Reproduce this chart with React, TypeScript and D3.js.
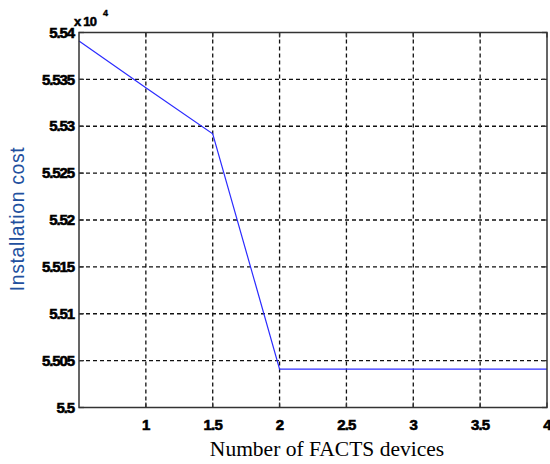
import React from "react";
import * as d3 from "d3";

const xValues = [0.5, 1, 1.5, 2, 2.5, 3, 3.5, 4];
const costValues = [55391, 55341, 55292, 55041, 55041, 55041, 55041, 55041];
const xTicks = [1, 1.5, 2, 2.5, 3, 3.5, 4];
const yTicks = [5.5, 5.505, 5.51, 5.515, 5.52, 5.525, 5.53, 5.535, 5.54];
const yTickLabels = ["5.5", "5.505", "5.51", "5.515", "5.52", "5.525", "5.53", "5.535", "5.54"];

const W = 550;
const H = 464;
const left = 79;
const right = 547;
const top = 32.5;
const bottom = 407.5;

export default function App() {
  const x = d3.scaleLinear().domain([0.5, 4]).range([left, right]);
  const y = d3.scaleLinear().domain([5.5, 5.54]).range([bottom, top]);
  const line = d3
    .line<number>()
    .x((_, i) => x(xValues[i]))
    .y((d) => y(d / 1e4));
  const tickFont = "'Liberation Sans', Arial, sans-serif";
  const boldStyle = { fontWeight: 700 as const };
  return (
    <svg
      width={W}
      height={H}
      style={{ position: "absolute", left: 0, top: 0, background: "#fff" }}
    >
      <rect x={0} y={0} width={W} height={H} fill="#fff" />
      {/* grid */}
      {xTicks.slice(0, -1).map((t) => (
        <line
          key={"gx" + t}
          x1={x(t)}
          x2={x(t)}
          y1={top}
          y2={bottom}
          stroke="#111"
          strokeWidth={1.3}
          strokeDasharray="4,3"
        />
      ))}
      {yTicks.slice(1, -1).map((t) => (
        <line
          key={"gy" + t}
          x1={left}
          x2={right}
          y1={y(t)}
          y2={y(t)}
          stroke="#111"
          strokeWidth={1.3}
          strokeDasharray="4,3"
        />
      ))}
      {/* ticks inward */}
      {xTicks.map((t) => (
        <g key={"tx" + t}>
          <line x1={x(t)} x2={x(t)} y1={bottom} y2={bottom - 5} stroke="#333" strokeWidth={1.3} />
          <line x1={x(t)} x2={x(t)} y1={top} y2={top + 5} stroke="#333" strokeWidth={1.3} />
        </g>
      ))}
      {yTicks.map((t) => (
        <g key={"ty" + t}>
          <line x1={left} x2={left + 5} y1={y(t)} y2={y(t)} stroke="#333" strokeWidth={1.3} />
          <line x1={right} x2={right - 5} y1={y(t)} y2={y(t)} stroke="#333" strokeWidth={1.3} />
        </g>
      ))}
      {/* data line */}
      <path d={line(costValues) || ""} fill="none" stroke="#2b2bff" strokeWidth={1.2} />
      {/* frame */}
      <rect
        x={left}
        y={top}
        width={right - left}
        height={bottom - top}
        fill="none"
        stroke="#333"
        strokeWidth={1.5}
      />
      {/* tick labels */}
      {xTicks.map((t) => (
        <text
          key={"lx" + t}
          x={x(t)}
          y={429.5}
          textAnchor="middle"
          fontFamily={tickFont}
          style={boldStyle}
          fontSize={15}
          letterSpacing={-0.8}
          fill="#000"
          stroke="#000"
          strokeWidth={0.6}
        >
          {String(t)}
        </text>
      ))}
      {yTicks.map((t, i) => (
        <text
          key={"ly" + t}
          x={74}
          y={y(t) + 5.2}
          textAnchor="end"
          fontFamily={tickFont}
          style={boldStyle}
          fontSize={15}
          letterSpacing={-1.1}
          fill="#000"
          stroke="#000"
          strokeWidth={0.6}
        >
          {yTickLabels[i]}
        </text>
      ))}
      {/* exponent */}
      <text
        x={74}
        y={25.5}
        fontFamily={tickFont}
        style={boldStyle}
        fontSize={13}
        letterSpacing={-0.8}
        fill="#000"
        stroke="#000"
        strokeWidth={0.5}
      >
        x 10
      </text>
      <text
        x={103}
        y={16}
        fontFamily={tickFont}
        style={boldStyle}
        fontSize={9}
        fill="#000"
        stroke="#000"
        strokeWidth={0.4}
      >
        4
      </text>
      {/* axis labels */}
      <text
        x={327}
        y={456}
        textAnchor="middle"
        fontFamily="'Liberation Serif', 'Times New Roman', serif"
        fontSize={21.5}
        fill="#000"
      >
        Number of FACTS devices
      </text>
      <text
        transform={`translate(24,219) rotate(-90)`}
        textAnchor="middle"
        fontFamily={tickFont}
        fontSize={19.5}
        letterSpacing={0.6}
        fill="#22509e"
      >
        Installation cost
      </text>
    </svg>
  );
}
